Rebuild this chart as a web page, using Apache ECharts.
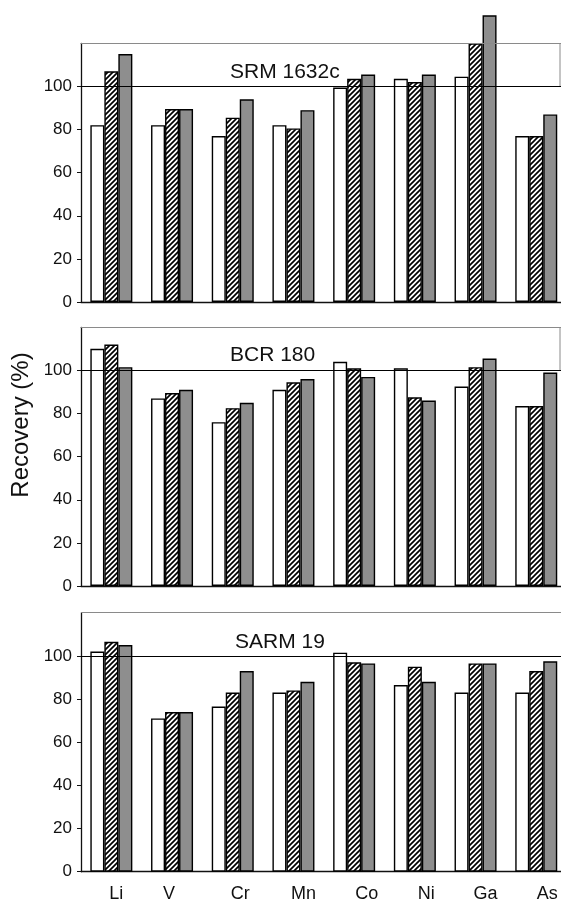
<!DOCTYPE html>
<html>
<head>
<meta charset="utf-8">
<script src="https://cdn.jsdelivr.net/npm/echarts@6/dist/echarts.min.js"></script>
<style>
html,body{margin:0;padding:0;background:#fff;overflow:hidden;}
#chart{width:561px;height:904px;}
</style>
</head>
<body>
<div id="chart"></div>
<script>
const categories = ['Li','V','Cr','Mn','Co','Ni','Ga','As'];
const panelTitles = ['SRM 1632c','BCR 180','SARM 19'];
const yTicks = [0,20,40,60,80,100];
const yAxisTitle = 'Recovery (%)';

const srmWhite = [82, 82, 77, 82, 99.5, 103.5, 104.5, 77];
const srmHatch = [107, 89.5, 85.5, 80.5, 103.5, 102, 120, 77];
const srmGray  = [115, 89.5, 94, 89, 105.5, 105.5, 133, 87];

const bcrWhite = [110, 87, 76, 91, 104, 101, 92.5, 83.5];
const bcrHatch = [112, 89.5, 82.5, 94.5, 101, 87.5, 101.5, 83.5];
const bcrGray  = [101.5, 91, 85, 96, 97, 86, 105.5, 99];

const sarmWhite = [102, 71, 76.5, 83, 101.5, 86.5, 83, 83];
const sarmHatch = [106.5, 74, 83, 84, 97, 95, 96.5, 93];
const sarmGray  = [105, 74, 93, 88, 96.5, 88, 96.5, 97.5];

const panels = [
  [srmWhite, srmHatch, srmGray],
  [bcrWhite, bcrHatch, bcrGray],
  [sarmWhite, sarmHatch, sarmGray]
];

const FONT = '"Liberation Sans", Arial, Helvetica, sans-serif';

// hatch pattern
const pc = document.createElement('canvas');
pc.width = 5; pc.height = 5;
const pctx = pc.getContext('2d');
pctx.fillStyle = '#fff';
pctx.fillRect(0,0,5,5);
pctx.strokeStyle = '#000';
pctx.lineWidth = 1.7;
pctx.beginPath();
pctx.moveTo(0,5); pctx.lineTo(5,0);
pctx.moveTo(-1,1); pctx.lineTo(1,-1);
pctx.moveTo(4,6); pctx.lineTo(6,4);
pctx.stroke();
const hatch = {image: pc, repeat: 'repeat'};

const grids = [
  {left: 81, top: 43.3, width: 485.6, height: 258.7},
  {left: 81, top: 327.3, width: 485.6, height: 258.7},
  {left: 81, top: 612.7, width: 485.6, height: 259}
];
const titleTops = [62, 345, 632];
const titleLefts = [230, 230, 235];

// per-label horizontal shift (px) of the x tick labels, as in the original figure
const labelShift = [5, -3, 7.5, 10, 12.5, 11.5, 10, 11];
const rich = {};
labelShift.forEach((d, i) => {
  rich['c' + i] = {
    fontSize: 18, color: '#111', fontFamily: FONT,
    padding: d >= 0 ? [0, 0, 0, 2 * d] : [0, -2 * d, 0, 0]
  };
});

const fills = ['#ffffff', hatch, '#8e8e8e'];

const option = {
  animation: false,
  backgroundColor: '#fff',
  title: panelTitles.map((t, i) => ({
    text: t, left: titleLefts[i], top: titleTops[i], padding: 0,
    textStyle: {fontSize: 21, fontWeight: 'normal', color: '#111', fontFamily: FONT}
  })),
  grid: grids.map(g => Object.assign({show: false, containLabel: false, outerBoundsMode: 'none'}, g)),
  xAxis: grids.map((g, i) => ({
    type: 'category', gridIndex: i, data: categories, boundaryGap: true,
    axisLine: {show: true, lineStyle: {color: '#111', width: 1.3}},
    axisTick: {show: false},
    axisLabel: {show: i === 2, interval: 0, hideOverlap: false, fontSize: 18, color: '#111', fontFamily: FONT, margin: 13,
      formatter: (v, idx) => '{c' + idx + '|' + v + '}', rich: rich},
    splitLine: {show: false}
  })),
  yAxis: grids.map((g, i) => ({
    type: 'value', gridIndex: i, min: 0, max: 120, interval: 20,
    axisLine: {show: true, lineStyle: {color: '#111', width: 1.3}},
    axisTick: {show: true, inside: false, length: 4, customValues: yTicks, lineStyle: {color: '#111'}},
    axisLabel: {fontSize: 17, color: '#111', fontFamily: FONT, margin: 9, customValues: yTicks,
      formatter: v => (v > 100 ? '' : String(v))},
    splitLine: {show: false}
  })),
  graphic: [
    {
      type: 'text', x: 21, y: 425, rotation: Math.PI / 2,
      style: {text: yAxisTitle, fontSize: 24, fill: '#111', fontFamily: FONT, align: 'center', verticalAlign: 'middle'}
    },
    {type: 'line', shape: {x1: 560, y1: 43.3, x2: 560, y2: 86}, style: {stroke: '#8a8a8a', lineWidth: 1}},
    {type: 'line', shape: {x1: 560, y1: 327.3, x2: 560, y2: 370}, style: {stroke: '#8a8a8a', lineWidth: 1}}
  ],
  series: []
};

panels.forEach((arrs, p) => {
  arrs.forEach((vals, k) => {
    const s = {
      type: 'bar', xAxisIndex: p, yAxisIndex: p, data: vals,
      barWidth: 14, barGap: '0%', clip: false,
      itemStyle: {color: fills[k], borderColor: '#000', borderWidth: 1.4},
      emphasis: {disabled: true}
    };
    if (k === 2) {
      s.markLine = {
        silent: true, symbol: 'none', animation: false,
        label: {show: false},
        data: [
          {yAxis: 100, lineStyle: {color: '#000', width: 1, type: 'solid'}},
          {yAxis: 120, lineStyle: {color: '#8a8a8a', width: 1, type: 'solid'}}
        ]
      };
    }
    option.series.push(s);
  });
});

const chart = echarts.init(document.getElementById('chart'), null, {renderer: 'canvas'});
chart.setOption(option);
</script>
</body>
</html>
